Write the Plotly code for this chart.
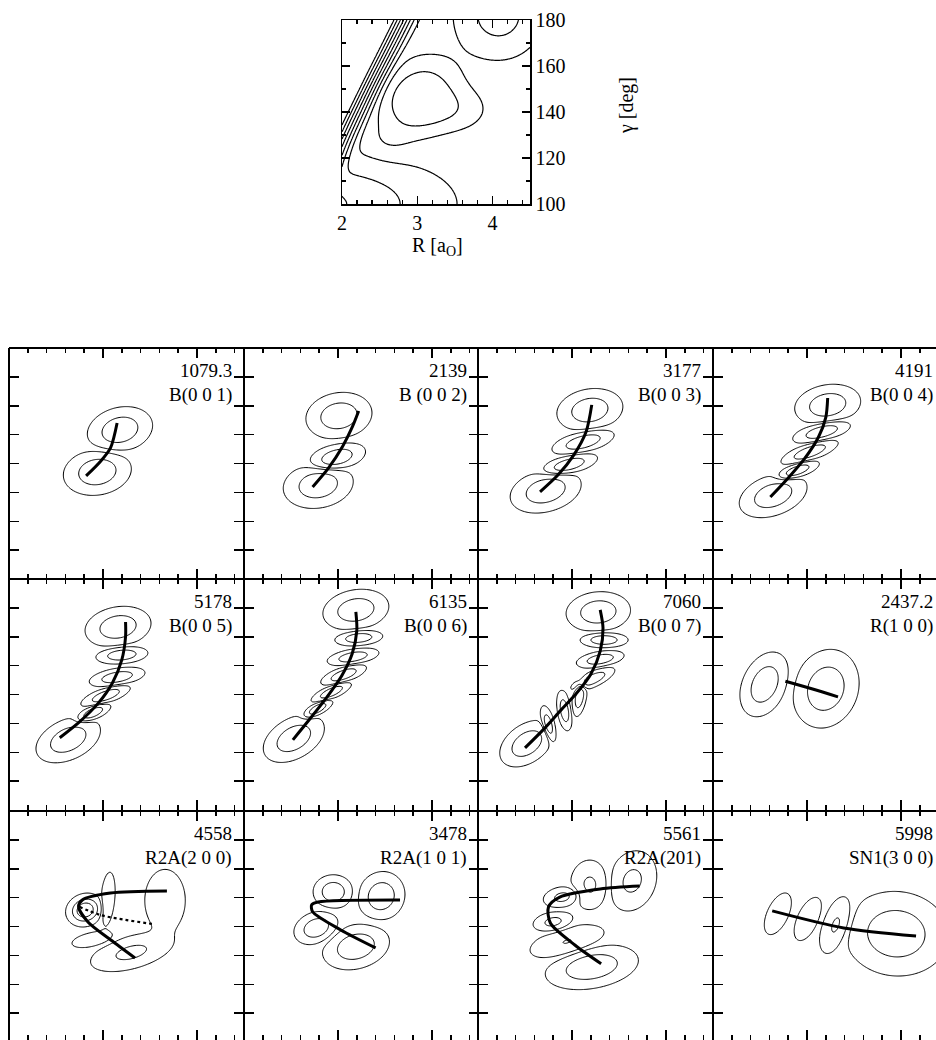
import numpy as np
import plotly.graph_objects as go

FONT = "Liberation Serif, Times New Roman, serif"
W, H = 936, 1040

# ---------------- top panel: model potential surface (parameters)
PES_BASE = -0.3
PES_WELL_R = [3.02, 3.50, 4.08, 2.62]
PES_WELL_G = [146.0, 141.0, 182.0, 127.0]
PES_WELL_DEPTH = [0.85, 0.30, 0.60, 0.15]
PES_WELL_SA = [0.34, 0.30, 0.36, 0.20]      # bohr (visual units)
PES_WELL_SB = [0.28, 0.20, 0.36, 0.15]
PES_WELL_ANG = [45.0, 0.0, 0.0, 0.0]
PES_WALL = dict(r0=2.10, g0=120.0, slope=0.0152, k=7.0, w=0.045)
PES_BUMP = dict(r=1.7, g=100.0, amp=0.8, sr=1.0, sg=13.0)
PES_LEVEL_START, PES_LEVEL_END, PES_LEVEL_STEP = -0.75, 1.95, 0.3

# ---------------- wavefunction panels
ENERGIES = ["1079.3", "2139", "3177", "4191", "5178", "6135", "7060", "2437.2",
            "4558", "3478", "5561", "5998"]
STATES = ["B(0 0 1)", "B (0 0 2)", "B(0 0 3)", "B(0 0 4)", "B(0 0 5)", "B(0 0 6)",
          "B(0 0 7)", "R(1 0 0)", "R2A(2 0 0)", "R2A(1 0 1)", "R2A(201)", "SN1(3 0 0)"]

LOBE_R = [
    [3.18, 2.94],
    [3.01, 2.98, 2.79],
    [3.19, 3.12, 2.96, 2.72],
    [3.22, 3.16, 3.03, 2.89, 2.64],
    [3.16, 3.20, 3.15, 3.03, 2.89, 2.63],
    [3.19, 3.22, 3.16, 3.06, 2.93, 2.78, 2.53],
    [3.28, 3.34, 3.30, 3.22, 3.08, 2.92, 2.75, 2.52],
    [2.55, 3.20],
    [2.81, 3.05, 2.89, 3.66, 3.30],
    [2.95, 3.46, 2.77, 3.19],
    [3.64, 3.19, 2.90, 2.80, 2.95, 3.21],
    [2.69, 3.01, 3.31, 3.95],
]
LOBE_G = [
    [151.6, 137.1],
    [156.5, 142.0, 132.6],
    [158.5, 147.5, 139.5, 130.6],
    [160.3, 151.0, 144.0, 137.5, 129.0],
    [163.4, 153.7, 146.0, 139.6, 133.6, 124.4],
    [169.3, 159.6, 153.0, 146.8, 140.8, 135.0, 124.8],
    [168.6, 158.9, 152.2, 145.3, 139.2, 134.4, 129.4, 123.0],
    [143.5, 142.0],
    [145.7, 149.5, 135.5, 149.0, 131.0],
    [152.0, 150.5, 139.5, 133.0],
    [155.8, 154.4, 150.2, 141.6, 134.7, 126.0],
    [144.4, 142.6, 140.6, 137.5],
]
LOBE_SA = [
    [0.165, 0.17],
    [0.165, 0.15, 0.175],
    [0.165, 0.16, 0.15, 0.18],
    [0.165, 0.15, 0.15, 0.12, 0.175],
    [0.165, 0.13, 0.14, 0.13, 0.10, 0.17],
    [0.165, 0.12, 0.13, 0.12, 0.11, 0.09, 0.165],
    [0.16, 0.12, 0.12, 0.12, 0.10, 0.10, 0.10, 0.15],
    [0.17, 0.20],
    [0.09, 0.16, 0.125, 0.185, 0.23],
    [0.10, 0.125, 0.115, 0.17],
    [0.17, 0.14, 0.105, 0.11, 0.225, 0.234],
    [0.135, 0.14, 0.175, 0.26],
]
LOBE_SB = [
    [0.112, 0.115],
    [0.115, 0.07, 0.115],
    [0.105, 0.055, 0.05, 0.105],
    [0.10, 0.05, 0.045, 0.04, 0.10],
    [0.10, 0.045, 0.045, 0.04, 0.038, 0.10],
    [0.10, 0.04, 0.04, 0.04, 0.035, 0.033, 0.10],
    [0.10, 0.04, 0.04, 0.04, 0.035, 0.035, 0.035, 0.095],
    [0.11, 0.16],
    [0.075, 0.042, 0.043, 0.12, 0.09],
    [0.085, 0.115, 0.08, 0.11],
    [0.13, 0.11, 0.057, 0.055, 0.088, 0.107],
    [0.064, 0.064, 0.079, 0.21],
]
LOBE_ANG = [
    [15, 10],
    [10, 15, 10],
    [10, 15, 15, 15],
    [10, 15, 20, 20, 20],
    [10, 5, 10, 20, 25, 25],
    [10, 5, 10, 20, 25, 30, 30],
    [5, 0, 10, 25, 80, 100, 105, 35],
    [65, 70],
    [20, 85, 12, 90, 15],
    [0, 60, 20, 15],
    [70, 90, 10, 10, 15, 10],
    [65, 65, 70, -5],
]
LOBE_AMP = [
    [1, -1],
    [1, -1, 1],
    [1, -1, 1, -1],
    [1, -1, 1, -1, 1],
    [1, -1, 1, -1, 1, -1],
    [1, -1, 1, -1, 1, -1, 1],
    [1, -1, 1, -1, 1, -1, 1, -1],
    [1, -1],
    [1.6, -0.5, -0.5, 0.5, 0.65],
    [1, -1, -1, 1],
    [0.65, -0.6, 0.7, -0.7, 0.52, -1],
    [0.48, -0.48, 0.6, -1],
]
PSI_LEVELS = [0.1, 0.5]
EXTRA_LEVEL = {8: 1.0}

PATH_R = [
    [2.82, 2.97, 3.08, 3.15],
    [2.73, 2.90, 3.05, 3.15, 3.22],
    [2.66, 2.85, 3.02, 3.15, 3.21],
    [2.61, 2.80, 2.97, 3.12, 3.20, 3.22],
    [2.54, 2.75, 2.95, 3.10, 3.20, 3.24, 3.24],
    [2.52, 2.70, 2.88, 3.04, 3.15, 3.20, 3.19],
    [2.50, 2.70, 2.88, 3.05, 3.20, 3.30, 3.33, 3.30],
    [2.77, 3.05, 3.33],
    [3.68, 3.08, 2.78, 2.74, 2.84, 3.08, 3.34],
    [3.66, 2.79, 2.72, 2.73, 3.03, 3.40],
    [3.72, 3.30, 2.87, 2.75, 2.77, 3.03, 3.31],
    [2.63, 3.39, 4.16],
]
PATH_G = [
    [135.7, 140.6, 145.4, 154.0],
    [131.9, 138.5, 146.0, 152.5, 158.2],
    [130.2, 136.0, 143.0, 151.0, 160.3],
    [128.4, 135.0, 141.5, 149.0, 156.0, 162.7],
    [125.0, 130.5, 137.0, 144.0, 152.0, 160.0, 165.1],
    [124.3, 131.5, 139.0, 146.5, 154.0, 162.0, 168.6],
    [121.5, 128.0, 134.5, 140.5, 147.0, 155.0, 163.0, 169.3],
    [144.6, 142.0, 139.2],
    [152.3, 151.6, 149.2, 146.8, 141.6, 135.4, 129.1],
    [149.2, 148.5, 147.5, 145.1, 138.8, 132.6],
    [154.0, 153.0, 150.2, 146.8, 141.2, 133.6, 127.1],
    [145.4, 139.5, 136.7],
]
DOT_R = [2.75, 2.97, 3.24, 3.52]
DOT_G = [146.8, 144.0, 142.3, 140.9]

R_RANGE = [2.0, 4.5]
G_RANGE = [100.0, 180.0]
GAMMA_PER_R = 32.45  # visual aspect: degrees per bohr on the panels

# ---------------- grids
Rv = np.linspace(R_RANGE[0], R_RANGE[1], 221)
Gv = np.linspace(G_RANGE[0], G_RANGE[1], 221)
RG, GG = np.meshgrid(Rv, Gv)


def gauss(r0, g0, sa, sb, ang):
    dx = RG - r0
    dy = (GG - g0) / GAMMA_PER_R
    t = np.radians(ang)
    a = dx * np.cos(t) + dy * np.sin(t)
    c = -dx * np.sin(t) + dy * np.cos(t)
    return np.exp(-0.5 * ((a / sa) ** 2 + (c / sb) ** 2))


def pes():
    V = np.full_like(RG, PES_BASE)
    for r0, g0, d, sa, sb, ang in zip(PES_WELL_R, PES_WELL_G, PES_WELL_DEPTH,
                                       PES_WELL_SA, PES_WELL_SB, PES_WELL_ANG):
        V -= d * gauss(r0, g0, sa, sb, ang)
    w = PES_WALL
    rw = w["r0"] + (GG - w["g0"]) * w["slope"]
    V += w["k"] * w["w"] * np.logaddexp(0.0, (rw - RG) / w["w"])
    b = PES_BUMP
    V += b["amp"] * np.exp(-((RG - b["r"]) ** 2 / (2 * b["sr"] ** 2) + (GG - b["g"]) ** 2 / (2 * b["sg"] ** 2)))
    return V


def psi_abs(i):
    psi = np.zeros_like(RG)
    for r0, g0, sa, sb, ang, amp in zip(LOBE_R[i], LOBE_G[i], LOBE_SA[i], LOBE_SB[i],
                                         LOBE_ANG[i], LOBE_AMP[i]):
        psi += amp * gauss(r0, g0, sa, sb, ang)
    return np.round(np.abs(psi), 4)


def level_trace(z, lo, hi, size, xa, ya, width=1.0):
    return go.Contour(x=Rv, y=Gv, z=z, autocontour=False,
                      contours=dict(start=lo, end=hi, size=size, coloring="none"),
                      line=dict(color="black", width=width, smoothing=1.0),
                      showscale=False, hoverinfo="skip", xaxis=xa, yaxis=ya)


fig = go.Figure()

# top panel
V = np.round(pes(), 4)
fig.add_trace(level_trace(V, PES_LEVEL_START, PES_LEVEL_END, PES_LEVEL_STEP, "x", "y", 1.2))

# layout geometry (pixels)
COL_L = [9, 244, 478, 713]
ROW_T = [348, 579, 811]
PW, PH = 235, 231

layout = dict(
    width=W, height=H, autosize=False, margin=dict(l=0, r=0, t=0, b=0, pad=0),
    paper_bgcolor="white", plot_bgcolor="rgba(0,0,0,0)", showlegend=False,
    font=dict(family=FONT, color="black"), template="simple_white",
)

layout["xaxis"] = dict(domain=[342 / W, 530 / W], range=R_RANGE, anchor="y", automargin=False,
                       tick0=2, dtick=1, ticks="inside", ticklen=8, tickwidth=1.2, tickcolor="black",
                       minor=dict(ticks="inside", tick0=2, dtick=0.2, ticklen=4, tickwidth=1.2,
                                  tickcolor="black"),
                       showline=True, linewidth=1.5, linecolor="black", mirror="ticks",
                       showgrid=False, zeroline=False, tickfont=dict(size=20, family=FONT))
layout["yaxis"] = dict(domain=[1 - 204 / H, 1 - 20 / H], range=G_RANGE, anchor="x", side="right",
                       automargin=False,
                       tick0=100, dtick=20, ticks="inside", ticklen=8, tickwidth=1.2, tickcolor="black",
                       minor=dict(ticks="inside", tick0=100, dtick=10, ticklen=4, tickwidth=1.2,
                                  tickcolor="black"),
                       showline=True, linewidth=1.5, linecolor="black", mirror="ticks",
                       showgrid=False, zeroline=False, tickfont=dict(size=20, family=FONT))

annotations = [
    dict(text="R [a<sub>O</sub>]", x=437 / W, y=1 - 246 / H, xref="paper", yref="paper",
         showarrow=False, font=dict(size=20, family=FONT), xanchor="center", yanchor="middle"),
    dict(text="γ [deg]", x=627 / W, y=1 - 106 / H, xref="paper", yref="paper", textangle=-90,
         showarrow=False, font=dict(size=20, family=FONT), xanchor="center", yanchor="middle"),
]

for i in range(12):
    r, c = divmod(i, 4)
    n = i + 2
    xa, ya = f"x{n}", f"y{n}"
    left, top = COL_L[c], ROW_T[r]
    right = min(left + PW, W)
    bottom = min(top + PH, H)
    xr = [R_RANGE[0], R_RANGE[0] + (right - left) / PW * (R_RANGE[1] - R_RANGE[0])]
    yr = [G_RANGE[1] - (bottom - top) / PH * (G_RANGE[1] - G_RANGE[0]), G_RANGE[1]]

    z = psi_abs(i)
    fig.add_trace(level_trace(z, PSI_LEVELS[0], PSI_LEVELS[1], PSI_LEVELS[1] - PSI_LEVELS[0], xa, ya))
    if i in EXTRA_LEVEL:
        lv = EXTRA_LEVEL[i]
        fig.add_trace(level_trace(z, lv, lv, 1.0, xa, ya))
    fig.add_trace(go.Scatter(x=PATH_R[i], y=PATH_G[i], mode="lines",
                             line=dict(color="black", width=3, shape="spline", smoothing=0.8),
                             hoverinfo="skip", xaxis=xa, yaxis=ya))
    if i == 8:
        fig.add_trace(go.Scatter(x=DOT_R, y=DOT_G, mode="lines",
                                 line=dict(color="black", width=2.2, dash="dot", shape="spline"),
                                 hoverinfo="skip", xaxis=xa, yaxis=ya))

    layout[f"xaxis{n}"] = dict(domain=[left / W, right / W], range=xr, anchor=ya, automargin=False,
                               tick0=2, dtick=1, ticks="inside", ticklen=10, tickwidth=1.5,
                               tickcolor="black",
                               minor=dict(ticks="inside", tick0=2, dtick=0.2, ticklen=5,
                                          tickwidth=1.5, tickcolor="black"),
                               showticklabels=False, showline=False, mirror="ticks",
                               showgrid=False, zeroline=False)
    layout[f"yaxis{n}"] = dict(domain=[1 - bottom / H, 1 - top / H], range=yr, anchor=xa,
                               automargin=False,
                               tick0=100, dtick=10, ticks="inside", ticklen=10, tickwidth=1.5,
                               tickcolor="black",
                               showticklabels=False, showline=False,
                               mirror=("ticks" if c < 3 else False),
                               showgrid=False, zeroline=False)

    tx = (left + PW - 10) if c < 3 else 935
    annotations.append(dict(text=ENERGIES[i], x=tx / W, y=1 - (top + 22) / H, xref="paper",
                            yref="paper", xanchor="right", yanchor="middle", showarrow=False,
                            font=dict(size=19, family=FONT)))
    annotations.append(dict(text=STATES[i], x=tx / W, y=1 - (top + 47) / H, xref="paper",
                            yref="paper", xanchor="right", yanchor="middle", showarrow=False,
                            font=dict(size=19, family=FONT)))

# frame lines of the panel grid
shapes = []
for xl in COL_L:
    shapes.append(dict(type="line", xref="paper", yref="paper", x0=xl / W, x1=xl / W,
                       y0=0, y1=1 - ROW_T[0] / H, opacity=1, layer="above",
                       line=dict(color="black", width=2)))
for yt in ROW_T:
    shapes.append(dict(type="line", xref="paper", yref="paper", x0=COL_L[0] / W, x1=1,
                       y0=1 - yt / H, y1=1 - yt / H, opacity=1, layer="above",
                       line=dict(color="black", width=2)))

layout["annotations"] = annotations
layout["shapes"] = shapes
fig.update_layout(**layout)
fig.write_html("out.html", config={"displayModeBar": False, "staticPlot": True},
               post_script="document.body.style.margin='0px';document.body.style.overflow='hidden';")
